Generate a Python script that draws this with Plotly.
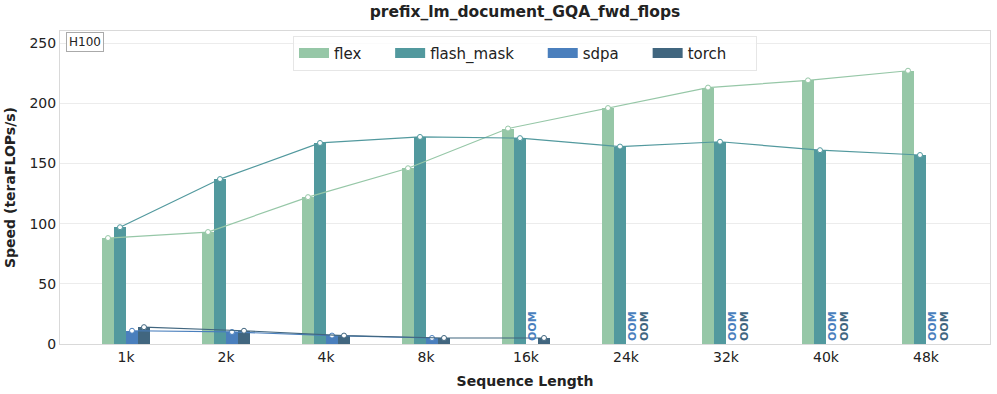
import plotly.graph_objects as go

# sequence lengths on the x axis
seq_labels = ["1k", "2k", "4k", "8k", "16k", "24k", "32k", "40k", "48k"]

# speed in teraFLOPs/s, None = out of memory
flex = [88, 93, 122, 146, 179, 196, 213, 219, 227]
flash_mask = [97, 137, 167, 172, 171, 164, 168, 161, 157]
sdpa = [11, 10, 7, 5, None, None, None, None, None]
torch = [14, 11, 7, 5, 5, None, None, None, None]

series = [
    ("flex", flex, "#96c7a7", -0.18),
    ("flash_mask", flash_mask, "#52999e", -0.06),
    ("sdpa", sdpa, "#4a7fbd", 0.06),
    ("torch", torch, "#41667f", 0.18),
]

fig = go.Figure()
annotations = []

for name, vals, color, off in series:
    xs = [i + off for i in range(len(seq_labels))]
    fig.add_trace(go.Bar(
        x=xs, y=vals, name=name, width=0.12, showlegend=False,
        marker=dict(color=color, line=dict(width=0)),
    ))

# lines through the bar tops, drawn on top of the bars
for name, vals, color, off in series:
    xs = [i + off for i, v in enumerate(vals) if v is not None]
    ys = [v for v in vals if v is not None]
    fig.add_trace(go.Scatter(
        x=xs, y=ys, mode="lines+markers", showlegend=False,
        line=dict(color=color, width=1.2),
        marker=dict(size=5, color="white", line=dict(color=color, width=1)),
    ))
    # OOM markers for missing values
    for i, v in enumerate(vals):
        if v is None:
            annotations.append(dict(
                x=i + off, y=0, xref="x", yref="y", text="<b>OOM</b>",
                textangle=-90, showarrow=False, yanchor="bottom",
                font=dict(size=11, color=color), yshift=1,
            ))

# legend entries drawn as thick lines so the swatches are wide rectangles
for name, vals, color, off in series:
    fig.add_trace(go.Scatter(
        x=[None], y=[None], mode="lines", name=name + "     ",
        line=dict(color=color, width=10),
    ))

annotations.append(dict(
    x=0.006, y=0.998, xref="paper", yref="paper", text="H100",
    showarrow=False, xanchor="left", yanchor="top",
    font=dict(size=12, color="#222"), bordercolor="#aaa", borderwidth=1,
    borderpad=2, bgcolor="white",
))

fig.update_layout(
    width=997, height=394,
    margin=dict(l=60, r=7, t=31, b=50),
    font=dict(family="DejaVu Sans", color="#222"),
    plot_bgcolor="white", paper_bgcolor="white",
    title=dict(text="<b>prefix_lm_document_GQA_fwd_flops</b>", x=0.5, xref="paper",
               xanchor="center", y=0.97, yanchor="middle", font=dict(size=15.5)),
    barmode="overlay",
    bargap=0,
    legend=dict(orientation="h", x=0.5, xanchor="center", y=0.985, yanchor="top",
                bordercolor="#e6e6e6", borderwidth=1, bgcolor="rgba(255,255,255,0.8)",
                font=dict(size=15), itemwidth=30),
    xaxis=dict(
        tickvals=list(range(len(seq_labels))), ticktext=seq_labels,
        range=[-0.66, 8.64], showgrid=False, zeroline=False,
        showline=True, linecolor="#d9d9d9", mirror=True, ticks="",
        tickfont=dict(size=14),
        title=dict(text="<b>Sequence Length</b>", font=dict(size=14), standoff=12),
    ),
    yaxis=dict(
        range=[0, 260], tickvals=[0, 50, 100, 150, 200, 250],
        showgrid=True, gridcolor="#ececec", zeroline=False,
        showline=True, linecolor="#d9d9d9", mirror=True, ticks="",
        tickfont=dict(size=14),
        title=dict(text="<b>Speed (teraFLOPs/s)</b>", font=dict(size=14), standoff=10),
    ),
    annotations=annotations,
)

# drop the default page margin so the figure fills the window exactly
fig.write_html("out.html", config={"displayModeBar": False},
               post_script="document.body.style.margin='0';")
